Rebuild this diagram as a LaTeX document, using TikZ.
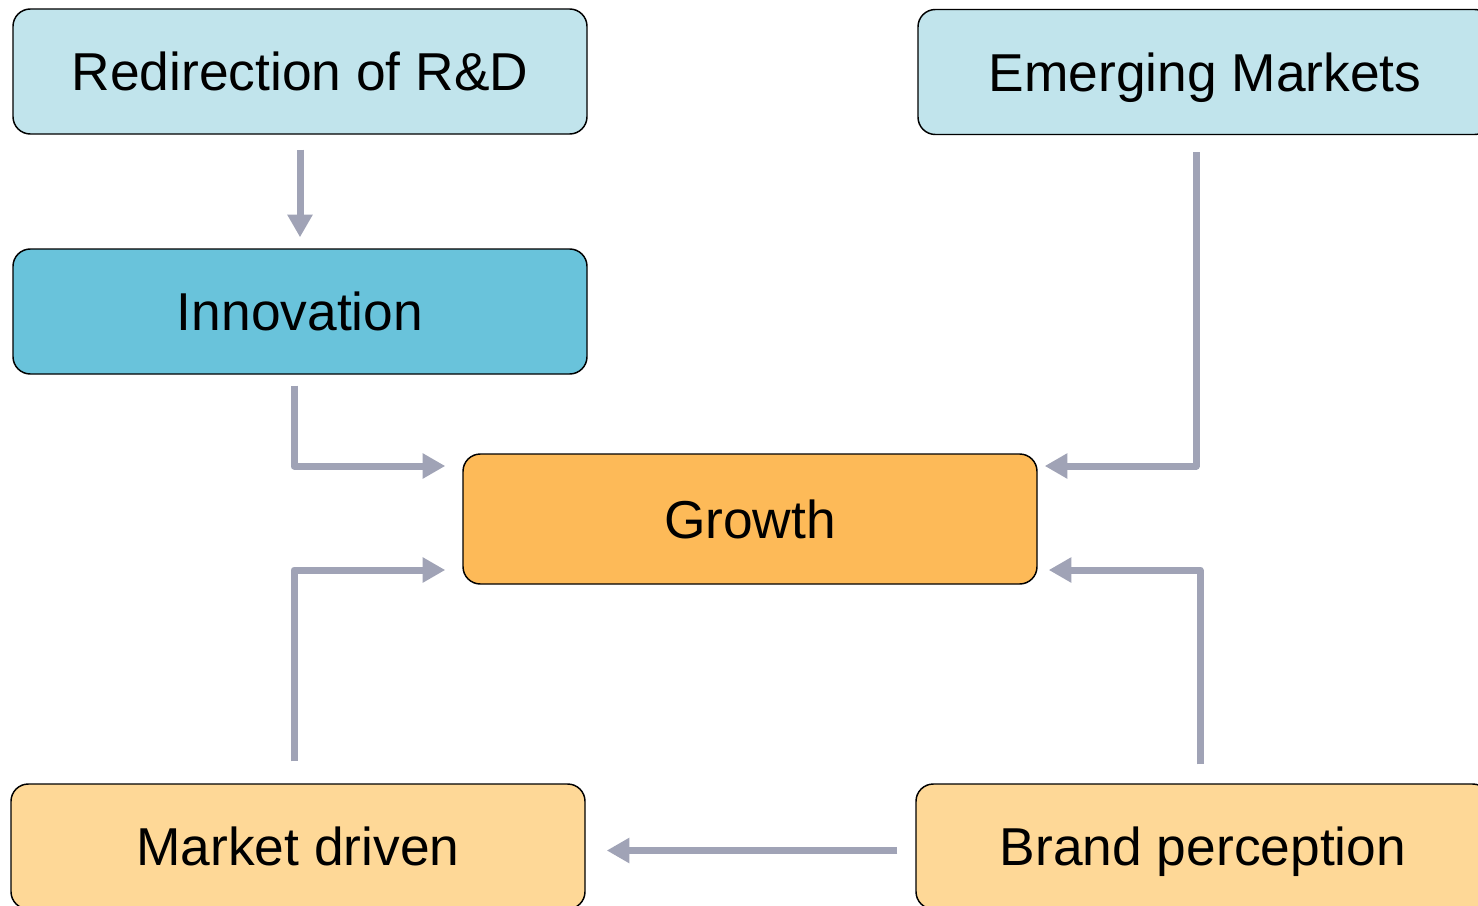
\documentclass[tikz,border=0pt]{standalone}
\usepackage{fontspec}
\setmainfont{Liberation Sans}
\usetikzlibrary{arrows.meta,calc}
\definecolor{lblue}{HTML}{C1E4EC}
\definecolor{mblue}{HTML}{69C3DB}
\definecolor{orng}{HTML}{FDBA58}
\definecolor{tan}{HTML}{FED897}
\definecolor{arrgray}{HTML}{A0A3B6}
\begin{document}
\begin{tikzpicture}[x=0.75pt,y=-0.75pt,
  box/.style={draw=black,line width=1.1pt,rounded corners=13pt,minimum width=430.5pt,minimum height=93.75pt,inner sep=0pt,text height=29pt,text depth=0pt,font=\fontsize{40}{48}\selectfont},
  arr/.style={draw=arrgray,line width=5.25pt,line join=round,-{Triangle[length=17pt,width=18pt]}}]
\useasboundingbox (0,0) rectangle (1478,906);
\clip (0,0) rectangle (1478,906);
\fill[white] (0,0) rectangle (1478,906);
\node[box,fill=lblue] (rd) at (300,71.5) {Redirection of R\&D};
\node[box,fill=mblue] (inn) at (300,311.5) {Innovation};
\node[box,fill=orng,minimum height=97.5pt] (gro) at (750,519) {Growth};
\node[box,fill=lblue] (em) at (1205,72) {Emerging Markets};
\node[box,fill=tan] (md) at (298,846.5) {Market driven};
\node[box,fill=tan] (bp) at (1203,846.5) {Brand perception};
\draw[arr] ($(rd.south)+(0,15)$) -- ($(inn.north)+(0,-11)$);
\draw[arr] ($(inn.south)+(-6,11)$) |- ($(gro.west)+(-17,-53)$);
\draw[arr] ($(em.south)+(-9,17)$) |- ($(gro.east)+(7,-53)$);
\draw[arr] ($(md.north)+(-4,-22)$) |- ($(gro.west)+(-17,51)$);
\draw[arr] ($(bp.north)+(-3,-19)$) |- ($(gro.east)+(11,51)$);
\draw[arr] ($(bp.west)+(-18,4)$) -- ($(md.east)+(21,4)$);
\end{tikzpicture}
\end{document}
